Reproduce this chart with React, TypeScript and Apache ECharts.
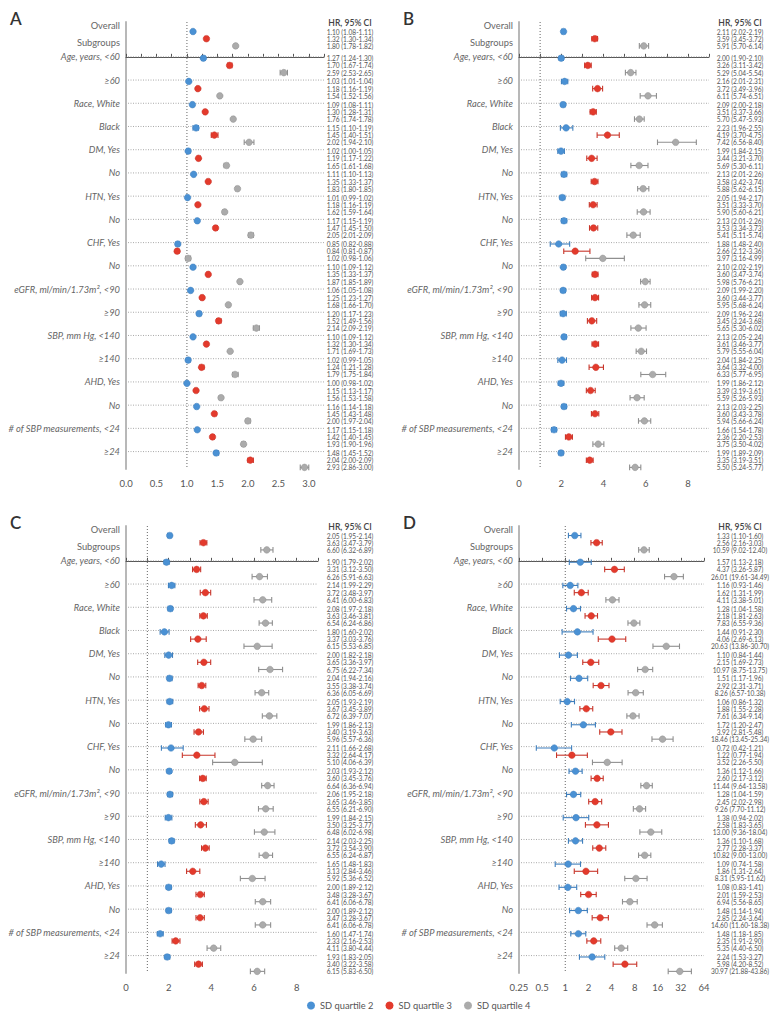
import React, { useEffect, useRef } from "react";
import * as echarts from "echarts";

const FONT = "Lato, 'Noto Sans', sans-serif";

const topLabels = ["Overall", "Subgroups"];
const subgroupLabels = [
  "Age, years, <60", "≥60", "Race, White", "Black", "DM, Yes", "No", "HTN, Yes", "No",
  "CHF, Yes", "No", "eGFR, ml/min/1.73m², <90", "≥90", "SBP, mm Hg, <140", "≥140",
  "AHD, Yes", "No", "# of SBP measurements, <24", "≥24",
];
const quartileNames = ["SD quartile 2", "SD quartile 3", "SD quartile 4"];

// [HR, lower, upper] — Overall first, then the 18 subgroups
const aQ2 = [[1.10,1.08,1.11],[1.27,1.24,1.30],[1.03,1.01,1.04],[1.09,1.08,1.11],[1.15,1.10,1.19],[1.02,1.00,1.05],[1.11,1.10,1.13],[1.01,0.99,1.02],[1.17,1.15,1.19],[0.85,0.82,0.88],[1.10,1.09,1.12],[1.06,1.05,1.08],[1.20,1.17,1.23],[1.10,1.09,1.12],[1.02,0.99,1.05],[1.00,0.98,1.02],[1.16,1.14,1.18],[1.17,1.15,1.18],[1.48,1.45,1.52]];
const aQ3 = [[1.32,1.30,1.34],[1.70,1.67,1.74],[1.18,1.16,1.19],[1.30,1.28,1.31],[1.45,1.40,1.51],[1.19,1.17,1.22],[1.35,1.33,1.37],[1.18,1.16,1.19],[1.47,1.45,1.50],[0.84,0.81,0.87],[1.35,1.33,1.37],[1.25,1.23,1.27],[1.52,1.49,1.56],[1.32,1.30,1.34],[1.24,1.21,1.28],[1.15,1.13,1.17],[1.45,1.43,1.48],[1.42,1.40,1.45],[2.04,2.00,2.09]];
const aQ4 = [[1.80,1.78,1.82],[2.59,2.53,2.65],[1.54,1.52,1.56],[1.76,1.74,1.78],[2.02,1.94,2.10],[1.65,1.61,1.68],[1.83,1.80,1.85],[1.62,1.59,1.64],[2.05,2.01,2.09],[1.02,0.98,1.06],[1.87,1.85,1.89],[1.68,1.66,1.70],[2.14,2.09,2.19],[1.71,1.69,1.73],[1.79,1.75,1.84],[1.56,1.53,1.58],[2.00,1.97,2.04],[1.93,1.90,1.96],[2.93,2.86,3.00]];

const bQ2 = [[2.11,2.02,2.19],[2.00,1.90,2.10],[2.16,2.01,2.31],[2.09,2.00,2.18],[2.23,1.96,2.55],[1.99,1.84,2.15],[2.13,2.01,2.26],[2.05,1.94,2.17],[2.13,2.01,2.26],[1.88,1.48,2.40],[2.10,2.02,2.19],[2.09,1.99,2.20],[2.09,1.96,2.24],[2.13,2.05,2.24],[2.04,1.84,2.25],[1.99,1.86,2.12],[2.13,2.03,2.25],[1.66,1.54,1.78],[1.99,1.89,2.09]];
const bQ3 = [[3.59,3.45,3.72],[3.26,3.11,3.42],[3.72,3.49,3.96],[3.51,3.37,3.66],[4.19,3.70,4.75],[3.44,3.21,3.70],[3.58,3.42,3.74],[3.51,3.33,3.70],[3.53,3.34,3.73],[2.66,2.12,3.36],[3.60,3.47,3.74],[3.60,3.44,3.77],[3.45,3.24,3.68],[3.61,3.46,3.77],[3.64,3.32,4.00],[3.39,3.19,3.61],[3.60,3.43,3.78],[2.36,2.20,2.53],[3.35,3.19,3.51]];
const bQ4 = [[5.91,5.70,6.14],[5.29,5.04,5.54],[6.11,5.74,6.51],[5.70,5.47,5.93],[7.42,6.56,8.40],[5.69,5.30,6.11],[5.88,5.62,6.15],[5.90,5.60,6.21],[5.41,5.11,5.74],[3.97,3.16,4.99],[5.98,5.76,6.21],[5.95,5.68,6.24],[5.65,5.30,6.02],[5.79,5.55,6.04],[6.33,5.77,6.95],[5.59,5.26,5.93],[5.94,5.66,6.24],[3.75,3.50,4.02],[5.50,5.24,5.77]];

const cQ2 = [[2.05,1.95,2.14],[1.90,1.79,2.02],[2.14,1.99,2.29],[2.08,1.97,2.18],[1.80,1.60,2.02],[2.00,1.82,2.18],[2.04,1.94,2.16],[2.05,1.93,2.19],[1.99,1.86,2.13],[2.11,1.66,2.68],[2.03,1.93,2.12],[2.06,1.95,2.18],[1.99,1.84,2.15],[2.14,2.03,2.25],[1.65,1.48,1.83],[2.00,1.89,2.12],[2.00,1.89,2.12],[1.60,1.47,1.74],[1.93,1.83,2.05]];
const cQ3 = [[3.63,3.47,3.79],[3.31,3.12,3.50],[3.72,3.48,3.97],[3.63,3.46,3.81],[3.37,3.03,3.76],[3.65,3.36,3.97],[3.55,3.38,3.74],[3.67,3.45,3.89],[3.40,3.19,3.63],[3.32,2.64,4.17],[3.60,3.45,3.76],[3.65,3.46,3.85],[3.50,3.25,3.77],[3.72,3.54,3.90],[3.13,2.84,3.46],[3.48,3.28,3.67],[3.47,3.28,3.67],[2.33,2.16,2.53],[3.40,3.22,3.58]];
const cQ4 = [[6.60,6.32,6.89],[6.26,5.91,6.63],[6.41,6.00,6.83],[6.54,6.24,6.86],[6.15,5.53,6.85],[6.75,6.22,7.34],[6.36,6.05,6.69],[6.72,6.39,7.07],[5.96,5.57,6.36],[5.10,4.06,6.39],[6.64,6.36,6.94],[6.55,6.21,6.90],[6.48,6.02,6.98],[6.55,6.24,6.87],[5.92,5.36,6.52],[6.41,6.06,6.78],[6.41,6.06,6.78],[4.11,3.80,4.44],[6.15,5.83,6.50]];

const dQ2 = [[1.33,1.10,1.60],[1.57,1.13,2.18],[1.16,0.93,1.46],[1.28,1.04,1.58],[1.44,0.91,2.30],[1.10,0.84,1.44],[1.51,1.17,1.96],[1.06,0.86,1.32],[1.72,1.20,2.47],[0.72,0.42,1.21],[1.36,1.12,1.66],[1.28,1.04,1.59],[1.38,0.94,2.02],[1.36,1.10,1.68],[1.09,0.74,1.58],[1.08,0.83,1.41],[1.48,1.14,1.94],[1.48,1.18,1.85],[2.24,1.53,3.27]];
const dQ3 = [[2.56,2.16,3.03],[4.37,3.26,5.87],[1.62,1.31,1.99],[2.18,1.81,2.63],[4.06,2.69,6.13],[2.15,1.69,2.73],[2.92,2.31,3.71],[1.88,1.55,2.28],[3.92,2.81,5.48],[1.22,0.77,1.94],[2.60,2.17,3.12],[2.45,2.02,2.98],[2.58,1.83,3.65],[2.77,2.28,3.37],[1.86,1.31,2.64],[2.01,1.59,2.53],[2.85,2.24,3.64],[2.35,1.91,2.90],[5.98,4.20,8.52]];
const dQ4 = [[10.59,9.02,12.40],[26.01,19.61,34.49],[4.11,3.38,5.01],[7.83,6.55,9.36],[20.63,13.86,30.70],[10.97,8.75,13.75],[8.26,6.57,10.38],[7.61,6.34,9.14],[18.46,13.45,25.34],[3.52,2.26,5.50],[11.44,9.64,13.58],[9.26,7.70,11.12],[13.00,9.36,18.04],[10.82,9.00,13.00],[8.31,5.95,11.62],[6.94,5.56,8.65],[14.60,11.60,18.38],[5.35,4.40,6.50],[30.97,21.88,43.86]];

const COLORS = ["#4a91d4", "#e33a2c", "#ababab"];
const LINE_COLORS = ["#3f7fbd", "#c8352a", "#8f8f8f"];
const OFFSETS = [0.06, 0.37, 0.68];
const ROW_OVERALL_LABEL = -1.34;
const ROW_OVERALL_DATA = -1.15;
const ROW_SUBGROUPS = -0.6;
const Y_MIN = -1.5;
const Y_MAX = 17.75;

const fmt = (v: number) => v.toFixed(2);

type Panel = {
  letter: string;
  data: number[][][];
  log: boolean;
  xMin: number;
  xMax: number;
  interval: number;
  left: number;
  width: number;
  top: number;
  textX: number;
  labelFmt: (v: number) => string;
};

const fmtA = (v: number) => (Math.abs(v * 2 - Math.round(v * 2)) < 1e-6 ? v.toFixed(1) : "");
const fmtEven = (v: number) => (Math.round(v) % 2 === 0 ? String(Math.round(v)) : "");
const fmtLog = (v: number) => String(+Number(v).toFixed(2));

const panels: Panel[] = [
  { letter: "A", data: [aQ2, aQ3, aQ4], log: false, xMin: 0, xMax: 3.25, interval: 0.25, left: 126, width: 198, top: 22, textX: 350, labelFmt: fmtA },
  { letter: "B", data: [bQ2, bQ3, bQ4], log: false, xMin: 0, xMax: 9, interval: 1, left: 519, width: 190, top: 22, textX: 740, labelFmt: fmtEven },
  { letter: "C", data: [cQ2, cQ3, cQ4], log: false, xMin: 0, xMax: 9, interval: 1, left: 126, width: 192, top: 526, textX: 350, labelFmt: fmtEven },
  { letter: "D", data: [dQ2, dQ3, dQ4], log: true, xMin: 0.25, xMax: 64, interval: 1, left: 519, width: 185, top: 526, textX: 740, labelFmt: fmtLog },
];

const rowY = (r: number) => (r === 0 ? ROW_OVERALL_DATA : r - 1);

export default function App() {
  const ref = useRef<HTMLDivElement>(null);
  useEffect(() => {
    if (!ref.current) return;
    const chart = echarts.init(ref.current, undefined, { renderer: "svg" });
    const gridH = 447;
    const grid: any[] = [];
    const xAxis: any[] = [];
    const yAxis: any[] = [];
    const series: any[] = [];
    const graphic: any[] = [];

    panels.forEach((p, gi) => {
      grid.push({ left: p.left, top: p.top, width: p.width, height: gridH });
      xAxis.push({
        gridIndex: gi,
        type: p.log ? "log" : "value",
        logBase: p.log ? 2 : undefined,
        min: p.xMin,
        max: p.xMax,
        interval: p.interval,
        splitNumber: p.log ? 8 : undefined,
        splitLine: { show: false },
        axisLine: { show: true, lineStyle: { color: "#555", width: 1 } },
        axisTick: { show: true, inside: true, length: 3, lineStyle: { color: "#555" } },
        axisLabel: { fontSize: 9.5, color: "#555", fontFamily: FONT, margin: 9, formatter: p.labelFmt, showMaxLabel: true },
      });
      yAxis.push({
        gridIndex: gi,
        type: "value",
        inverse: true,
        min: Y_MIN,
        max: Y_MAX,
        axisLine: { show: true, lineStyle: { color: "#b8b8b8", width: 2 } },
        axisTick: { show: false },
        axisLabel: { show: false },
        splitLine: { show: false },
      });

      // row labels + dotted row lines
      const allLabels = [...topLabels, ...subgroupLabels];
      const labelData = [[p.xMin, ROW_OVERALL_LABEL, 0], [p.xMin, ROW_SUBGROUPS, 1], ...subgroupLabels.map((_, i) => [p.xMin, i, i + 2])];
      series.push({
        type: "custom",
        xAxisIndex: gi,
        yAxisIndex: gi,
        silent: true,
        encode: { x: 0, y: 1 },
        data: labelData,
        renderItem: (_params: any, api: any) => {
          const y = api.value(1);
          const idx = api.value(2);
          const a = api.coord([p.xMin, y]);
          const b = api.coord([p.xMax, y]);
          const children: any[] = [
            {
              type: "text",
              x: a[0] - 6,
              y: a[1],
              style: {
                text: allLabels[idx],
                align: "right",
                verticalAlign: "middle",
                fontSize: 9.3,
                fontFamily: FONT,
                fontStyle: idx >= 2 ? "italic" : "normal",
                fill: "#666",
              },
            },
          ];
          if (idx >= 2) {
            children.push({
              type: "line",
              shape: { x1: a[0] + 2, y1: a[1], x2: b[0], y2: a[1] },
              style: { stroke: "#939393", lineWidth: 0.8, lineDash: [1, 1.5] },
            });
          }
          return { type: "group", children };
        },
      });

      // reference line at HR = 1
      series.push({
        type: "custom",
        xAxisIndex: gi,
        yAxisIndex: gi,
        silent: true,
        encode: { x: 0, y: 1 },
        data: [[1, Y_MIN]],
        renderItem: (_params: any, api: any) => {
          const t = api.coord([1, Y_MIN]);
          const b = api.coord([1, Y_MAX]);
          return { type: "line", shape: { x1: t[0], y1: t[1], x2: b[0], y2: b[1] }, style: { stroke: "#666", lineWidth: 1, lineDash: [1, 2] } };
        },
      });

      // error bars
      p.data.forEach((arr, q) => {
        const color = COLORS[q];
        const lc = LINE_COLORS[q];
        series.push({
          type: "custom",
          name: quartileNames[q],
          xAxisIndex: gi,
          yAxisIndex: gi,
          itemStyle: { color },
          encode: { x: [0, 2, 3], y: 1 },
          data: arr.map((d, r) => [d[0], rowY(r) + OFFSETS[q], d[1], d[2]]),
          renderItem: (_params: any, api: any) => {
            const y = api.value(1);
            const c = api.coord([api.value(0), y]);
            const l = api.coord([api.value(2), y]);
            const h = api.coord([api.value(3), y]);
            const cap = 2.8;
            const ls = { stroke: lc, lineWidth: 1.1 };
            return {
              type: "group",
              children: [
                { type: "line", shape: { x1: l[0], y1: c[1], x2: h[0], y2: c[1] }, style: ls },
                { type: "line", shape: { x1: l[0], y1: c[1] - cap, x2: l[0], y2: c[1] + cap }, style: ls },
                { type: "line", shape: { x1: h[0], y1: c[1] - cap, x2: h[0], y2: c[1] + cap }, style: ls },
                { type: "circle", shape: { cx: c[0], cy: c[1], r: 3.3 }, style: { fill: color, stroke: lc, lineWidth: 0.5 } },
              ],
            };
          },
        });
      });

      // HR text column
      const textData: number[][] = [];
      p.data.forEach((arr, q) => arr.forEach((_d, r) => textData.push([p.xMin, rowY(r) + OFFSETS[q], q, r])));
      series.push({
        type: "custom",
        xAxisIndex: gi,
        yAxisIndex: gi,
        silent: true,
        encode: { x: 0, y: 1 },
        data: textData,
        renderItem: (_params: any, api: any) => {
          const y = api.value(1);
          const q = api.value(2);
          const r = api.value(3);
          const d = p.data[q][r];
          const pt = api.coord([p.xMin, y]);
          return {
            type: "text",
            x: p.textX,
            y: pt[1],
            style: {
              text: `${fmt(d[0])} (${fmt(d[1])}-${fmt(d[2])})`,
              align: "center",
              verticalAlign: "middle",
              fontSize: 6.6,
              fontFamily: FONT,
              fill: "#555",
            },
          };
        },
      });

      graphic.push({
        type: "text",
        left: p.left - 116,
        top: p.top - 12,
        style: { text: p.letter, fontSize: 17, fontFamily: FONT, fill: "#333", fontWeight: 600 },
      });
      graphic.push({
        type: "text",
        x: p.textX,
        y: p.top + 1,
        style: { text: "HR, 95% CI", fontSize: 8.6, fontWeight: 600, fontFamily: FONT, fill: "#444", align: "center", verticalAlign: "middle" },
      });
    });

    chart.setOption({
      animation: false,
      backgroundColor: "#fff",
      grid,
      xAxis,
      yAxis,
      series,
      graphic,
      legend: {
        left: 302,
        top: 996,
        itemWidth: 8,
        itemHeight: 8,
        itemGap: 12,
        selectedMode: false,
        textStyle: { fontSize: 9.3, color: "#555", fontFamily: FONT },
        data: quartileNames.map((n) => ({ name: n, icon: "circle" })),
      },
    });
    return () => chart.dispose();
  }, []);
  return <div ref={ref} style={{ position: "absolute", left: 0, top: 0, width: 784, height: 1015 }} />;
}
